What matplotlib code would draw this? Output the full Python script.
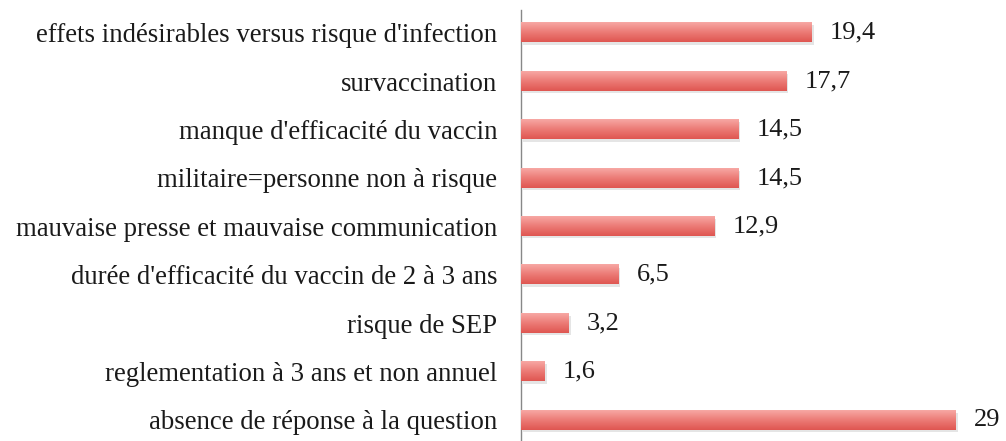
import numpy as np
import matplotlib as mpl
import matplotlib.pyplot as plt
from matplotlib.colors import LinearSegmentedColormap

mpl.rc('font', family='Liberation Serif')

# Data (percent)
categories = ["absence de réponse à la question",
              "reglementation à 3 ans et non annuel",
              "risque de SEP",
              "durée d'efficacité du vaccin de 2 à 3 ans",
              "mauvaise presse et mauvaise communication",
              "militaire=personne non à risque",
              "manque d'efficacité du vaccin",
              "survaccination",
              "effets indésirables versus risque d'infection"]
values = [29, 1.6, 3.2, 6.5, 12.9, 14.5, 14.5, 17.7, 19.4]
value_labels = ["29", "1,6", "3,2", "6,5", "12,9", "14,5", "14,5", "17,7", "19,4"]

fig = plt.figure(figsize=(10.06, 4.41), dpi=100)
ax = fig.add_axes([0.518, 0.0, 0.447, 431 / 441])

ypos = np.arange(len(categories))
bar_h = 0.4

# soft drop shadow behind each bar
ax.barh(ypos - 0.05, values, height=bar_h, left=0.12, color='#999999',
        alpha=0.25, edgecolor='none', zorder=1)
bars = ax.barh(ypos, values, height=bar_h, color='none', edgecolor='none',
               zorder=2)

# vertical gradient fill: light pink at top, deeper red at bottom
grad_cmap = LinearSegmentedColormap.from_list('redgrad',
                                              ['#df5651', '#ec7b76', '#f7a8a4'])
grad = np.linspace(0, 1, 64).reshape(-1, 1)
for b in bars:
    x0, y0 = b.get_x(), b.get_y()
    ax.imshow(grad, cmap=grad_cmap, aspect='auto', origin='lower',
              extent=(x0, x0 + b.get_width(), y0, y0 + b.get_height()),
              zorder=3)

for y, v, lab in zip(ypos, values, value_labels):
    ax.text(v + 1.2, y, lab, va='center', ha='left', fontsize=19,
            color='#1a1a1a')

ax.set_xlim(0, 30)
ax.set_ylim(-0.434, 8.47)
ax.set_yticks(ypos)
ax.set_yticklabels(categories, fontsize=19.3, color='#1a1a1a')
ax.tick_params(axis='y', length=0, pad=17)
ax.set_xticks([])
for side in ['top', 'right', 'bottom']:
    ax.spines[side].set_visible(False)
ax.spines['left'].set_color('#888888')
ax.spines['left'].set_linewidth(1.0)

fig.savefig('out.png', dpi=100)
